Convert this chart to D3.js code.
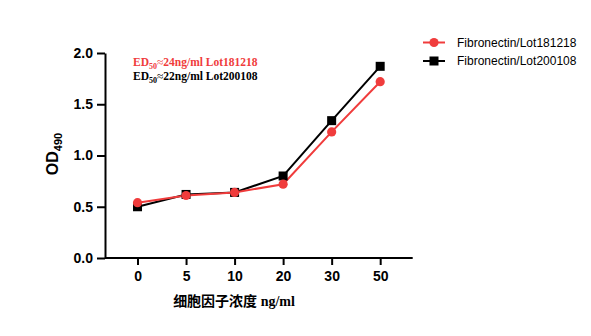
<!DOCTYPE html>
<html><head><meta charset="utf-8">
<script src="https://cdn.jsdelivr.net/npm/d3@7"></script>
<style>body{margin:0;background:#fff}svg{display:block}</style>
</head><body>
<script>
const categories = ["0","5","10","20","30","50"];
const lot181218 = [0.54, 0.61, 0.64, 0.72, 1.23, 1.72];
const lot200108 = [0.50, 0.62, 0.64, 0.80, 1.34, 1.87];
const yTicks = [0, 0.5, 1.0, 1.5, 2.0];
const seriesNames = ["Fibronectin/Lot181218", "Fibronectin/Lot200108"];
const colors = ["#f03c3c", "#000000"];

const W = 591, H = 336;
const svg = d3.select("body").append("svg").attr("width", W).attr("height", H);
const x = d3.scalePoint().domain(categories).range([105, 412.7]).padding(0.67);
const y = d3.scaleLinear().domain([0, 2]).range([258, 53]);

const gx = svg.append("g").attr("transform", "translate(0,258)")
  .call(d3.axisBottom(x).tickSize(7).tickPadding(6).tickSizeOuter(0));
const gy = svg.append("g").attr("transform", "translate(105,0)")
  .call(d3.axisLeft(y).tickValues(yTicks).tickFormat(d3.format(".1f")).tickSize(8).tickPadding(4).tickSizeOuter(0));
[gx, gy].forEach(g => {
  g.select(".domain").attr("stroke", "#000").attr("stroke-width", 2);
  g.selectAll(".tick line").attr("stroke", "#000").attr("stroke-width", 2);
  g.selectAll(".tick text").attr("fill", "#000").style("font-family", "Arial, 'Liberation Sans', sans-serif")
    .style("font-weight", "bold").style("font-size", "14px");
});
gx.select(".domain").attr("d", "M105,0H412.7");

const line = d3.line().x((d, i) => x(categories[i])).y(d => y(d));
const data = [lot181218, lot200108];
[1, 0].forEach(k => {
  svg.append("path").datum(data[k]).attr("d", line).attr("fill", "none")
    .attr("stroke", colors[k]).attr("stroke-width", 2);
});
svg.selectAll(".sq").data(lot200108).enter().append("rect")
  .attr("x", (d, i) => x(categories[i]) - 4.5).attr("y", d => y(d) - 4.5)
  .attr("width", 9).attr("height", 9).attr("fill", colors[1]);
svg.selectAll(".ci").data(lot181218).enter().append("circle")
  .attr("cx", (d, i) => x(categories[i])).attr("cy", d => y(d)).attr("r", 4.6).attr("fill", colors[0]);

// Y title
const yt = svg.append("text").attr("transform", "translate(58,154) rotate(-90)")
  .attr("text-anchor", "middle").style("font-family", "Arial, 'Liberation Sans', sans-serif")
  .style("font-weight", "bold").style("font-size", "16px").attr("fill", "#000");
yt.append("tspan").text("OD");
yt.append("tspan").attr("dy", 4).style("font-size", "11px").text("490");

// X title
const xt = svg.append("text").attr("x", 234).attr("y", 306).attr("text-anchor", "middle").attr("fill", "#000")
  .style("font-weight", "bold");
xt.append("tspan").style("font-family", "'Noto Sans CJK SC', sans-serif").style("font-size", "14px").text("细胞因子浓度");
xt.append("tspan").style("font-family", "'Liberation Serif', 'Times New Roman', serif").style("font-size", "14px").text(" ng/ml");

// ED50 annotations
const notes = [["24ng/ml Lot181218", colors[0], 66], ["22ng/ml Lot200108", colors[1], 80]];
notes.forEach(([t, c, yy]) => {
  const tx = svg.append("text").attr("x", 133).attr("y", yy).attr("fill", c)
    .style("font-family", "'Liberation Serif', 'Times New Roman', serif").style("font-weight", "bold").style("font-size", "11.5px");
  tx.append("tspan").text("ED");
  tx.append("tspan").attr("dy", 3).style("font-size", "8px").text("50");
  tx.append("tspan").attr("dy", -3).style("font-weight", "normal").text("≈");
  tx.append("tspan").text(t);
});

// Legend
seriesNames.forEach((n, k) => {
  const ly = k === 0 ? 42.5 : 61;
  svg.append("line").attr("x1", 423).attr("x2", 445).attr("y1", ly).attr("y2", ly)
    .attr("stroke", colors[k]).attr("stroke-width", 2);
  if (k === 0) svg.append("circle").attr("cx", 434).attr("cy", ly).attr("r", 4.6).attr("fill", colors[k]);
  else svg.append("rect").attr("x", 429.5).attr("y", ly - 4.5).attr("width", 9).attr("height", 9).attr("fill", colors[k]);
  svg.append("text").attr("x", 457).attr("y", ly + 4).attr("fill", "#000")
    .style("font-family", "Arial, 'Liberation Sans', sans-serif").style("font-size", "12px").text(n);
});
</script>
</body></html>
